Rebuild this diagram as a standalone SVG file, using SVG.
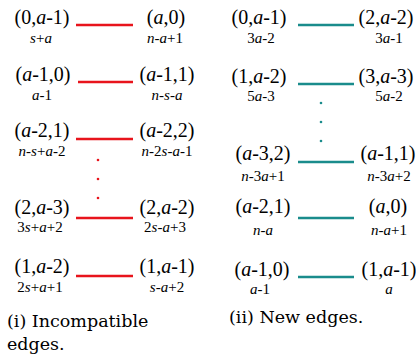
<svg xmlns="http://www.w3.org/2000/svg" width="416" height="358" viewBox="0 0 416 358">
<style>
.t{font-family:"Liberation Serif","Times New Roman",serif;font-size:20px;fill:#000;text-anchor:middle}
.l{font-family:"Liberation Serif","Times New Roman",serif;font-size:15px;fill:#000;text-anchor:middle}
.i{font-style:italic}
.cap{font-family:"DejaVu Serif",serif;font-size:17.5px;fill:#000}
.red{stroke:#e8141c;stroke-width:2.5}
.teal{stroke:#1a8c8c;stroke-width:2.5}
.rd{fill:#e8141c}
.td{fill:#1a8c8c}
</style>
<rect width="416" height="358" fill="#fff"/>
<g id="connectors">
<line class="red" x1="76" y1="25" x2="133" y2="25"/>
<line class="red" x1="78" y1="82" x2="133" y2="82"/>
<line class="red" x1="76" y1="139" x2="133" y2="139"/>
<line class="red" x1="76" y1="218" x2="133" y2="218"/>
<line class="red" x1="76" y1="276" x2="133" y2="276"/>
<circle class="rd" cx="98" cy="160" r="1.3"/>
<circle class="rd" cx="98" cy="179" r="1.3"/>
<circle class="rd" cx="98" cy="198" r="1.3"/>
<line class="teal" x1="298" y1="25" x2="354" y2="25"/>
<line class="teal" x1="298" y1="84" x2="354" y2="84"/>
<line class="teal" x1="298" y1="162" x2="354" y2="162"/>
<line class="teal" x1="298" y1="218" x2="354" y2="218"/>
<line class="teal" x1="298" y1="277" x2="354" y2="277"/>
<circle class="td" cx="321" cy="103" r="1.3"/>
<circle class="td" cx="321" cy="122" r="1.3"/>
<circle class="td" cx="321" cy="141" r="1.3"/>
</g>
<g id="L1a"><text class="t" x="42" y="24">(0,<tspan class="i">a</tspan>-1)</text><text class="l" x="41" y="43"><tspan class="i">s</tspan>+<tspan class="i">a</tspan></text></g>
<g id="L1b"><text class="t" x="166" y="24">(<tspan class="i">a</tspan>,0)</text><text class="l" x="165" y="43"><tspan class="i">n</tspan>-<tspan class="i">a</tspan>+1</text></g>
<g id="L2a"><text class="t" x="43" y="81">(<tspan class="i">a</tspan>-1,0)</text><text class="l" x="42" y="100"><tspan class="i">a</tspan>-1</text></g>
<g id="L2b"><text class="t" x="167" y="81">(<tspan class="i">a</tspan>-1,1)</text><text class="l" x="167" y="100"><tspan class="i">n</tspan>-<tspan class="i">s</tspan>-<tspan class="i">a</tspan></text></g>
<g id="L3a"><text class="t" x="42" y="137">(<tspan class="i">a</tspan>-2,1)</text><text class="l" x="42" y="156"><tspan class="i">n</tspan>-<tspan class="i">s</tspan>+<tspan class="i">a</tspan>-2</text></g>
<g id="L3b"><text class="t" x="167" y="137">(<tspan class="i">a</tspan>-2,2)</text><text class="l" x="167" y="156"><tspan class="i">n</tspan>-2<tspan class="i">s</tspan>-<tspan class="i">a</tspan>-1</text></g>
<g id="L4a"><text class="t" x="42" y="214">(2,<tspan class="i">a</tspan>-3)</text><text class="l" x="40" y="232">3<tspan class="i">s</tspan>+<tspan class="i">a</tspan>+2</text></g>
<g id="L4b"><text class="t" x="167" y="214">(2,<tspan class="i">a</tspan>-2)</text><text class="l" x="165" y="232">2<tspan class="i">s</tspan>-<tspan class="i">a</tspan>+3</text></g>
<g id="L5a"><text class="t" x="42" y="273">(1,<tspan class="i">a</tspan>-2)</text><text class="l" x="40" y="292">2<tspan class="i">s</tspan>+<tspan class="i">a</tspan>+1</text></g>
<g id="L5b"><text class="t" x="167" y="273">(1,<tspan class="i">a</tspan>-1)</text><text class="l" x="167" y="292"><tspan class="i">s</tspan>-<tspan class="i">a</tspan>+2</text></g>
<g id="R1a"><text class="t" x="259" y="24">(0,<tspan class="i">a</tspan>-1)</text><text class="l" x="261" y="43">3<tspan class="i">a</tspan>-2</text></g>
<g id="R1b"><text class="t" x="386" y="24">(2,<tspan class="i">a</tspan>-2)</text><text class="l" x="389" y="43">3<tspan class="i">a</tspan>-1</text></g>
<g id="R2a"><text class="t" x="259" y="83">(1,<tspan class="i">a</tspan>-2)</text><text class="l" x="261" y="101">5<tspan class="i">a</tspan>-3</text></g>
<g id="R2b"><text class="t" x="386" y="83">(3,<tspan class="i">a</tspan>-3)</text><text class="l" x="389" y="101">5<tspan class="i">a</tspan>-2</text></g>
<g id="R3a"><text class="t" x="263" y="160">(<tspan class="i">a</tspan>-3,2)</text><text class="l" x="263" y="181"><tspan class="i">n</tspan>-3<tspan class="i">a</tspan>+1</text></g>
<g id="R3b"><text class="t" x="388" y="160">(<tspan class="i">a</tspan>-1,1)</text><text class="l" x="389" y="181"><tspan class="i">n</tspan>-3<tspan class="i">a</tspan>+2</text></g>
<g id="R4a"><text class="t" x="263" y="213">(<tspan class="i">a</tspan>-2,1)</text><text class="l" x="263" y="235"><tspan class="i">n</tspan>-<tspan class="i">a</tspan></text></g>
<g id="R4b"><text class="t" x="388" y="213">(<tspan class="i">a</tspan>,0)</text><text class="l" x="389" y="235"><tspan class="i">n</tspan>-<tspan class="i">a</tspan>+1</text></g>
<g id="R5a"><text class="t" x="262" y="276">(<tspan class="i">a</tspan>-1,0)</text><text class="l" x="260" y="294"><tspan class="i">a</tspan>-1</text></g>
<g id="R5b"><text class="t" x="389" y="276">(1,<tspan class="i">a</tspan>-1)</text><text class="l" x="389" y="294"><tspan class="i">a</tspan></text></g>
<text class="cap" x="7" y="327">(i) Incompatible</text>
<text class="cap" x="7" y="350">edges.</text>
<text class="cap" x="229" y="323">(ii) New edges.</text>
</svg>
